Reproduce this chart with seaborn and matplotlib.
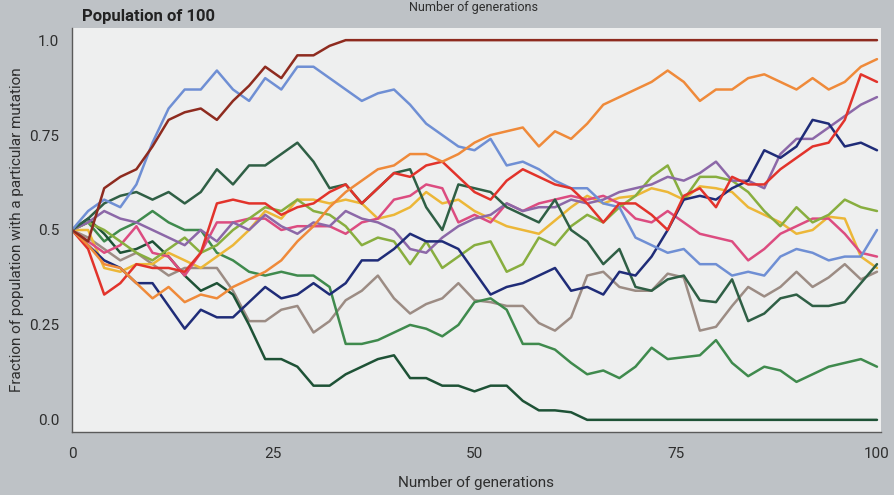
import matplotlib
matplotlib.use("Agg")
import matplotlib.pyplot as plt
import seaborn as sns
import pandas as pd

# ---------------- data ----------------
generations = list(range(0, 101, 2))

brown = [0.50, 0.47, 0.61, 0.64, 0.66, 0.72, 0.79, 0.81, 0.82, 0.79,
         0.84, 0.88, 0.93, 0.90, 0.96, 0.96, 0.985, 1.0, 1.0, 1.0,
         1.0, 1.0, 1.0, 1.0, 1.0, 1.0, 1.0, 1.0, 1.0, 1.0,
         1.0, 1.0, 1.0, 1.0, 1.0, 1.0, 1.0, 1.0, 1.0, 1.0,
         1.0, 1.0, 1.0, 1.0, 1.0, 1.0, 1.0, 1.0, 1.0, 1.0,
         1.0]
light_blue = [0.50, 0.55, 0.58, 0.56, 0.62, 0.73, 0.82, 0.87, 0.87, 0.92,
              0.87, 0.84, 0.90, 0.87, 0.93, 0.93, 0.90, 0.87, 0.84, 0.86,
              0.87, 0.83, 0.78, 0.75, 0.72, 0.71, 0.74, 0.67, 0.68, 0.66,
              0.63, 0.61, 0.61, 0.57, 0.56, 0.48, 0.46, 0.44, 0.45, 0.41,
              0.41, 0.38, 0.39, 0.38, 0.43, 0.45, 0.44, 0.42, 0.43, 0.43,
              0.50]
orange = [0.50, 0.46, 0.41, 0.40, 0.36, 0.32, 0.35, 0.31, 0.33, 0.32,
          0.35, 0.37, 0.39, 0.42, 0.47, 0.51, 0.56, 0.60, 0.63, 0.66,
          0.67, 0.70, 0.70, 0.68, 0.70, 0.73, 0.75, 0.76, 0.77, 0.72,
          0.76, 0.74, 0.78, 0.83, 0.85, 0.87, 0.89, 0.92, 0.89, 0.84,
          0.87, 0.87, 0.90, 0.91, 0.89, 0.87, 0.90, 0.87, 0.89, 0.93,
          0.95]
red = [0.50, 0.45, 0.33, 0.36, 0.41, 0.40, 0.40, 0.39, 0.44, 0.57,
       0.58, 0.57, 0.57, 0.54, 0.56, 0.57, 0.60, 0.62, 0.57, 0.61,
       0.65, 0.64, 0.67, 0.68, 0.64, 0.60, 0.58, 0.63, 0.66, 0.64,
       0.62, 0.61, 0.57, 0.52, 0.57, 0.57, 0.54, 0.50, 0.59, 0.61,
       0.56, 0.64, 0.62, 0.62, 0.66, 0.69, 0.72, 0.73, 0.79, 0.91,
       0.89]
purple = [0.50, 0.52, 0.55, 0.53, 0.52, 0.50, 0.48, 0.46, 0.50, 0.47,
          0.52, 0.50, 0.54, 0.51, 0.49, 0.52, 0.51, 0.55, 0.53, 0.52,
          0.50, 0.45, 0.44, 0.48, 0.51, 0.53, 0.54, 0.57, 0.55, 0.56,
          0.56, 0.58, 0.57, 0.58, 0.60, 0.61, 0.62, 0.64, 0.63, 0.65,
          0.68, 0.63, 0.63, 0.61, 0.70, 0.74, 0.74, 0.77, 0.80, 0.83,
          0.85]
navy = [0.50, 0.46, 0.42, 0.40, 0.36, 0.36, 0.30, 0.24, 0.29, 0.27,
        0.27, 0.31, 0.35, 0.32, 0.33, 0.36, 0.33, 0.36, 0.42, 0.42,
        0.45, 0.49, 0.47, 0.47, 0.45, 0.39, 0.33, 0.35, 0.36, 0.38,
        0.40, 0.34, 0.35, 0.33, 0.39, 0.38, 0.43, 0.50, 0.58, 0.59,
        0.58, 0.61, 0.63, 0.71, 0.69, 0.72, 0.79, 0.78, 0.72, 0.73,
        0.71]
dark_green = [0.50, 0.53, 0.57, 0.59, 0.60, 0.58, 0.60, 0.57, 0.60, 0.66,
              0.62, 0.67, 0.67, 0.70, 0.73, 0.68, 0.61, 0.62, 0.57, 0.61,
              0.65, 0.66, 0.56, 0.50, 0.62, 0.61, 0.60, 0.56, 0.54, 0.52,
              0.58, 0.50, 0.47, 0.41, 0.45, 0.35, 0.34, 0.37, 0.38, 0.315,
              0.31, 0.37, 0.26, 0.28, 0.32, 0.33, 0.30, 0.30, 0.31, 0.36,
              0.41]
deep_green = [0.50, 0.53, 0.49, 0.44, 0.45, 0.47, 0.43, 0.38, 0.34, 0.36,
              0.33, 0.25, 0.16, 0.16, 0.14, 0.09, 0.09, 0.12, 0.14, 0.16,
              0.17, 0.11, 0.11, 0.09, 0.09, 0.075, 0.09, 0.09, 0.05, 0.025,
              0.025, 0.02, 0.0, 0.0, 0.0, 0.0, 0.0, 0.0, 0.0, 0.0,
              0.0, 0.0, 0.0, 0.0, 0.0, 0.0, 0.0, 0.0, 0.0, 0.0,
              0.0]
mid_green = [0.50, 0.52, 0.47, 0.50, 0.52, 0.55, 0.52, 0.50, 0.50, 0.44,
             0.42, 0.39, 0.38, 0.39, 0.38, 0.38, 0.35, 0.20, 0.20, 0.21,
             0.23, 0.25, 0.24, 0.22, 0.25, 0.31, 0.32, 0.29, 0.20, 0.20,
             0.185, 0.15, 0.12, 0.13, 0.11, 0.14, 0.19, 0.16, 0.165, 0.17,
             0.21, 0.15, 0.115, 0.14, 0.13, 0.10, 0.12, 0.14, 0.15, 0.16,
             0.14]
yellow_green = [0.50, 0.52, 0.50, 0.47, 0.44, 0.42, 0.45, 0.48, 0.44, 0.46,
                0.50, 0.53, 0.56, 0.55, 0.58, 0.55, 0.54, 0.51, 0.46, 0.48,
                0.47, 0.41, 0.47, 0.40, 0.43, 0.46, 0.47, 0.39, 0.41, 0.48,
                0.46, 0.51, 0.54, 0.52, 0.56, 0.59, 0.64, 0.67, 0.58, 0.64,
                0.64, 0.63, 0.60, 0.55, 0.51, 0.56, 0.52, 0.54, 0.58, 0.56,
                0.55]
gold = [0.50, 0.50, 0.40, 0.39, 0.41, 0.41, 0.44, 0.42, 0.40, 0.43,
        0.46, 0.50, 0.55, 0.53, 0.58, 0.58, 0.57, 0.58, 0.57, 0.53,
        0.54, 0.56, 0.60, 0.57, 0.58, 0.55, 0.53, 0.51, 0.50, 0.49,
        0.525, 0.56, 0.59, 0.57, 0.585, 0.59, 0.61, 0.60, 0.58, 0.615,
        0.61, 0.60, 0.56, 0.54, 0.52, 0.49, 0.50, 0.535, 0.53, 0.43,
        0.40]
pink = [0.50, 0.47, 0.44, 0.46, 0.51, 0.44, 0.43, 0.38, 0.44, 0.52,
        0.52, 0.53, 0.53, 0.50, 0.51, 0.51, 0.51, 0.49, 0.52, 0.53,
        0.58, 0.59, 0.62, 0.61, 0.52, 0.54, 0.52, 0.57, 0.55, 0.57,
        0.58, 0.59, 0.58, 0.59, 0.57, 0.53, 0.52, 0.55, 0.52, 0.49,
        0.48, 0.47, 0.42, 0.45, 0.49, 0.51, 0.53, 0.53, 0.49, 0.44,
        0.43]
taupe = [0.50, 0.48, 0.45, 0.42, 0.44, 0.41, 0.38, 0.40, 0.40, 0.40,
         0.34, 0.26, 0.26, 0.29, 0.30, 0.23, 0.26, 0.315, 0.34, 0.38,
         0.32, 0.28, 0.305, 0.32, 0.36, 0.315, 0.31, 0.30, 0.30, 0.255,
         0.235, 0.27, 0.38, 0.39, 0.35, 0.34, 0.34, 0.385, 0.375, 0.235,
         0.245, 0.30, 0.35, 0.325, 0.35, 0.39, 0.35, 0.375, 0.41, 0.37,
         0.39]

series = {
    "taupe": taupe, "mid_green": mid_green, "deep_green": deep_green,
    "gold": gold, "pink": pink, "yellow_green": yellow_green,
    "purple": purple, "dark_green": dark_green, "navy": navy,
    "light_blue": light_blue, "red": red, "orange": orange, "brown": brown,
}
colors = {
    "brown": "#8E2B1F", "light_blue": "#6F8FD4", "orange": "#EF8A3A",
    "red": "#E2332B", "purple": "#8C68A8", "navy": "#1F2C78",
    "dark_green": "#2F5F45", "deep_green": "#1E5236", "mid_green": "#3F8A4D",
    "yellow_green": "#88AE3F", "gold": "#ECB738", "pink": "#DC4C80",
    "taupe": "#9C8C84",
}

x_ticks = [0, 25, 50, 75, 100]
x_tick_labels = ["0", "25", "50", "75", "100"]
y_ticks = [0.0, 0.25, 0.5, 0.75, 1.0]
y_tick_labels = ["0.0", "0.25", "0.5", "0.75", "1.0"]

rows = []
for name, vals in series.items():
    for g, v in zip(generations, vals):
        rows.append({"generation": g, "fraction": v, "line": name})
df = pd.DataFrame(rows)

# ---------------- style ----------------
sns.set_style("white")
plt.rcParams["font.family"] = ["Liberation Sans Narrow", "Roboto", "DejaVu Sans"]

W, H = 895, 495
fig = plt.figure(figsize=(W / 100, H / 100), dpi=100)
fig.patch.set_facecolor("#BEC2C6")

ax = fig.add_axes([72 / W, 1 - 432 / H, (881 - 72) / W, (432 - 28) / H])
ax.set_facecolor("#EEEFEF")

sns.lineplot(data=df, x="generation", y="fraction", hue="line",
             hue_order=list(series.keys()), palette=colors,
             linewidth=1.8, legend=False, ax=ax, sort=False)

ax.set_xlim(0, 100.5)
ax.set_ylim(-0.032, 1.032)
ax.set_xticks(x_ticks)
ax.set_xticklabels(x_tick_labels)
ax.set_yticks(y_ticks)
ax.set_yticklabels(y_tick_labels)

for side in ("top", "right"):
    ax.spines[side].set_visible(False)
for side in ("left", "bottom"):
    ax.spines[side].set_color("#5A5A5A")
    ax.spines[side].set_linewidth(1.0)

ax.tick_params(axis="both", direction="out", length=6, width=1,
               color="#5A5A5A", labelcolor="#2E2E2E", labelsize=11)
ax.tick_params(axis="x", pad=5)
ax.tick_params(axis="y", pad=3)

ax.set_xlabel("Number of generations", fontsize=11, color="#2E2E2E")
ax.xaxis.set_label_coords(0.5, -0.125)
ax.xaxis.label.set_va("center")
ax.set_ylabel("Fraction of population with a particular mutation",
              fontsize=11, color="#2E2E2E")
ax.yaxis.set_label_coords(-0.068, 0.5)
ax.yaxis.label.set_va("center")

fig.text(82 / W, 1 - 17 / H, "Population of 100", fontsize=12,
         fontweight="bold", color="#222222", va="center", ha="left")
# caption of the chart above, at the very top edge of the page
fig.text(474 / W, 1 - 7 / H, "Number of generations", fontsize=9,
         color="#2E2E2E", va="center", ha="center")

fig.savefig("out.png", dpi=100, facecolor=fig.get_facecolor())
